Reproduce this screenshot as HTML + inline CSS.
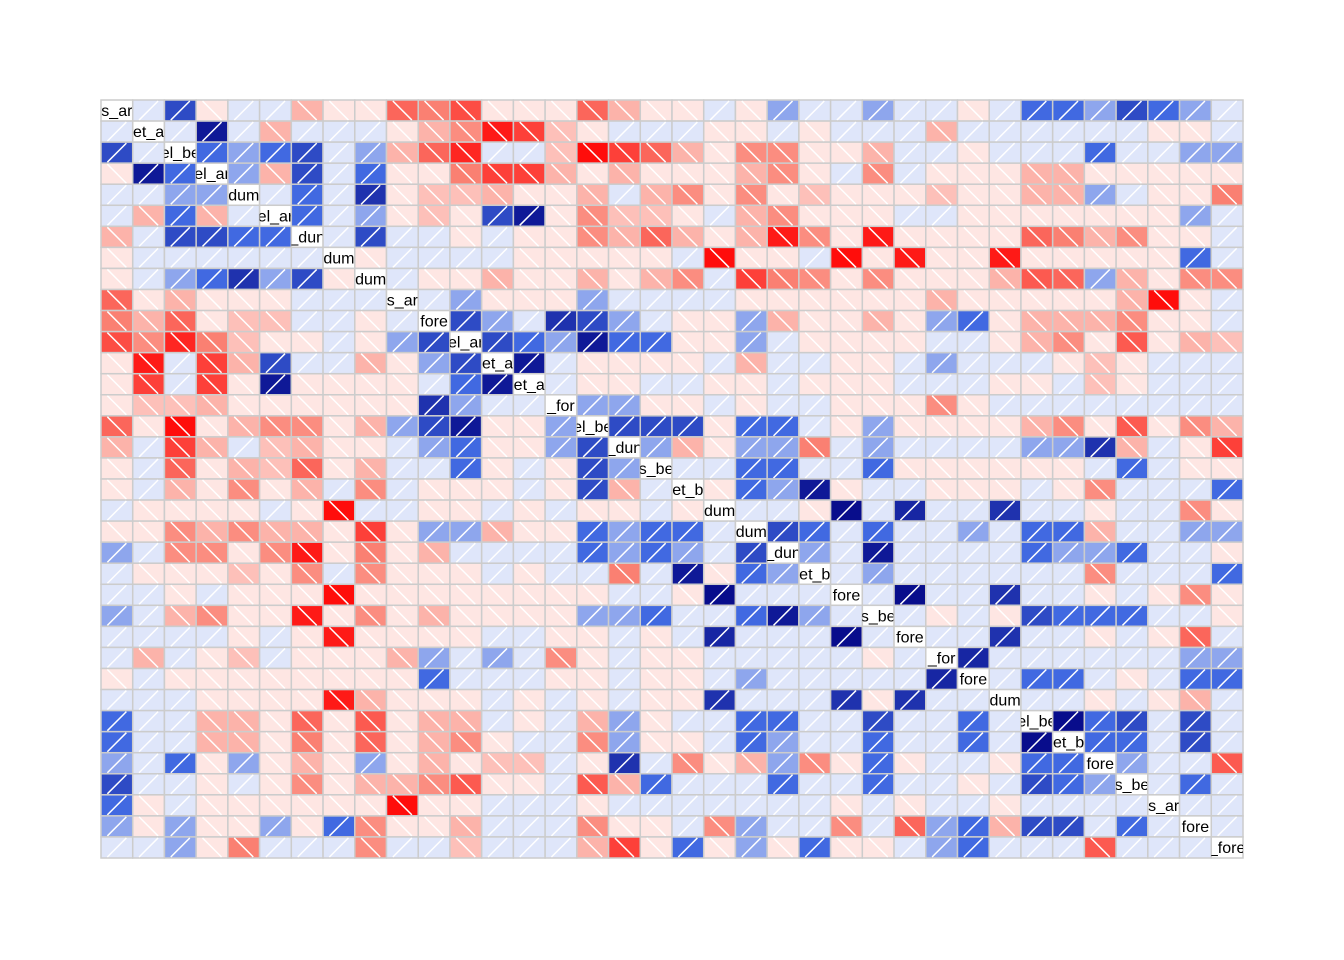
<!DOCTYPE html>
<html><head><meta charset="utf-8"><style>
html,body{margin:0;padding:0;background:#fff;}
svg{display:block;}
</style></head><body>
<svg id="chart" width="1344" height="960" xmlns="http://www.w3.org/2000/svg"></svg>
<script>
const labels=["s_ar","et_a","el_be","el_ar","dum","el_ar","_dun","dum","dum","s_ar","fore","el_ar","et_a","et_a","_for","el_be","_dun","s_be","et_b","dum","dum","_dun","et_b","fore","s_be","fore","_for","fore","dum","el_be","et_b","fore","s_be","s_ar","fore","_fore"];
const u0=[.1,.7,-.1,.1,.1,-.3,-.1,-.1,-.6,-.5,-.7,-.1,-.1,-.1,-.6,-.3,-.1,-.1,.1,-.1,.35,.1,.1,.35,.1,.1,-.1,.1,.55,.55,.35,.7,.55,.35,.1];
const u1=[.1,.9,.1,-.3,.1,.1,.1,-.1,-.3,-.45,-.9,-.75,-.25,-.1,.1,.1,.1,-.1,-.1,.1,-.1,.1,.1,.1,-.3,.1,.1,.1,.1,.1,.1,-.1,-.1,.1];
const u2=[.55,.35,.55,.7,.1,.35,-.3,-.6,-.85,.1,.1,-.25,-.95,-.75,-.6,-.3,-.1,-.45,-.45,-.1,-.1,-.3,.1,.1,-.1,.1,.1,.1,.55,.1,.1,.35,.35];
const u3=[.35,-.3,.7,.1,.55,-.1,-.1,-.5,-.75,-.75,-.3,-.1,-.3,-.1,-.1,-.1,-.3,-.45,-.1,.1,-.45,.1,-.1,-.1,-.1,-.3,-.3,-.1,-.1,-.1,-.1,-.1];
const u4=[.1,.55,.1,.8,-.1,-.25,-.25,-.3,-.1,-.1,-.3,.1,-.3,-.45,-.1,-.45,-.1,-.25,-.1,-.1,-.1,-.25,-.1,-.1,-.3,-.3,.35,.1,-.1,-.1,-.5];
const u5=[.55,.1,.35,-.1,-.25,-.1,.7,.9,-.1,-.45,-.25,-.25,-.1,.1,-.3,-.45,-.1,-.1,-.1,.1,.1,-.1,-.1,-.1,-.1,-.1,-.1,-.1,.35,.1];
const u6=[.1,.7,.1,.1,-.1,.1,-.1,-.1,-.45,-.3,-.6,-.3,-.1,-.3,-.9,-.45,-.1,-.9,-.1,-.1,-.1,-.1,-.6,-.5,-.3,-.45,-.1,-.1,.1];
const u7=[-.1,.1,.1,.1,.1,-.1,-.1,-.1,-.1,-.1,.1,-.95,-.1,-.1,.1,-.95,-.1,-.9,-.1,-.1,-.9,-.1,-.1,-.1,-.1,-.1,.55,.1];
const u8=[.1,-.1,-.1,-.3,-.1,-.1,-.3,-.1,-.3,-.45,.1,-.75,-.5,-.45,-.1,-.45,-.1,-.1,-.1,-.3,-.65,-.6,.35,-.3,-.1,-.45,-.45];
const u9=[.1,.35,-.1,-.1,-.1,.35,.1,.1,.1,.1,-.1,-.1,-.1,-.1,-.1,-.1,-.3,-.1,-.1,-.1,-.1,-.1,-.3,-.95,-.1,.1];
const u10=[.7,.35,.1,.8,.7,.35,.1,-.1,-.1,.35,-.3,-.1,-.1,-.3,-.1,.35,.5,-.1,-.3,-.3,-.3,-.45,-.1,-.1,.1];
const u11=[.7,.55,.35,.9,.55,.55,-.1,-.1,.35,.1,-.1,-.1,-.1,-.1,.1,.1,-.1,-.3,-.45,-.1,-.65,-.1,-.3,-.25];
const u12=[.9,.1,-.1,-.1,-.1,-.1,.1,-.3,.1,.1,-.1,-.1,.1,.35,.1,.1,.1,-.1,-.25,-.1,.1,.1,.1];
const u13=[.1,-.1,-.1,.1,.1,-.1,-.1,.1,-.1,-.1,-.1,.1,.1,.1,-.1,-.1,.1,-.25,-.1,.1,.1,.1];
const u14=[.35,.35,-.1,-.1,.1,-.1,.1,.1,-.1,-.1,-.1,-.45,-.1,.1,.1,.1,.1,.1,.1,.1,.1];
const u15=[.7,.7,.7,-.1,.55,.55,.1,-.1,.35,-.1,-.1,-.1,-.1,-.3,-.45,-.1,-.65,-.1,-.45,-.3];
const u16=[.35,-.3,-.1,.35,.35,-.5,.1,.35,.1,.1,.1,.1,.35,.35,.8,-.3,.1,-.1,-.75];
const u17=[.1,.1,.55,.55,.1,.1,.55,-.1,-.1,-.1,-.1,-.1,-.1,.1,.55,.1,-.1,-.1];
const u18=[-.1,.55,.35,.9,-.1,.1,.1,-.1,-.1,-.1,.1,-.1,-.45,.1,.1,.1,.55];
const u19=[.1,.1,-.1,.95,.1,.85,.1,.1,.8,.1,.1,-.1,.1,.1,-.45,-.1];
const u20=[.7,.55,.1,.55,.1,.1,.35,.1,.55,.55,-.3,.1,.1,.35,.35];
const u21=[.35,.1,.9,.1,.1,.1,.1,.55,.35,.35,.55,.1,.1,-.1];
const u22=[.1,.35,.1,.1,.1,.1,.1,.1,-.45,.1,.1,.1,.55];
const u23=[.1,.95,.1,.1,.8,.1,.1,-.1,.1,-.1,-.45,-.1];
const u24=[.1,-.1,.1,-.1,.7,.55,.55,.55,.1,.1,-.1];
const u25=[.1,.1,.8,.1,.1,-.1,.1,-.1,-.6,.1];
const u26=[.85,.1,.1,.1,.1,.1,.1,.35,.35];
const u27=[.1,.55,.55,.1,-.1,.1,.55,.55];
const u28=[.1,.1,-.1,.1,-.1,-.3,.1];
const u29=[.95,.55,.7,.1,.7,.1];
const u30=[.55,.55,.1,.7,.1];
const u31=[.35,.1,.1,-.65];
const u32=[.1,.55,.1];
const u33=[.1,.1];
const u34=[.1];
const upper=[u0,u1,u2,u3,u4,u5,u6,u7,u8,u9,u10,u11,u12,u13,u14,u15,u16,u17,u18,u19,u20,u21,u22,u23,u24,u25,u26,u27,u28,u29,u30,u31,u32,u33,u34];

const NS="http://www.w3.org/2000/svg";
const svg=document.getElementById('chart');
const n=labels.length, X0=101, X1=1243, Y0=100, Y1=858;
const cw=(X1-X0)/n, ch=(Y1-Y0)/n;
const xPos=c=>X0+c*cw, yPos=r=>Y0+r*ch;
function val(r,c){ if(r===c) return null; const a=Math.min(r,c), b=Math.max(r,c); return upper[a][b-a-1]; }
function mix(a,b,t){return a.map((v,i)=>Math.round(v+(b[i]-v)*t));}
function color(v){
  const W=[255,255,255], S=[250,128,114], R=[255,0,0], B=[65,105,225], N=[0,0,128];
  let t=Math.min(1,Math.abs(v));
  let c;
  if(v<0) c= t<0.5?mix(W,S,t/0.5):mix(S,R,(t-0.5)/0.5);
  else { t=t<0.5?t*0.85:t; c= t<0.5?mix(W,B,t/0.5):mix(B,N,Math.max(0,(t-0.58)/0.42)); }
  return `rgb(${c[0]},${c[1]},${c[2]})`;
}
const g=document.createElementNS(NS,'g');


svg.appendChild(g);
const defs=document.createElementNS(NS,'defs');svg.appendChild(defs);
for(let r=0;r<n;r++){
  for(let c=0;c<n;c++){
    const x=xPos(c), y=yPos(r), v=val(r,c);
    const rect=document.createElementNS(NS,'rect');
    rect.setAttribute('x',x);rect.setAttribute('y',y);rect.setAttribute('width',cw);rect.setAttribute('height',ch);
    rect.setAttribute('fill', v===null?'#ffffff':color(v));
    rect.setAttribute('stroke','#cccccc');rect.setAttribute('stroke-width','1.5');
    
    
    g.appendChild(rect);
    if(v===null){
      const cp=document.createElementNS(NS,'clipPath');cp.setAttribute('id','cp'+r);
      const cr=document.createElementNS(NS,'rect');cr.setAttribute('x',x);cr.setAttribute('y',y);cr.setAttribute('width',cw);cr.setAttribute('height',ch);
      cp.appendChild(cr);defs.appendChild(cp);
      const t=document.createElementNS(NS,'text');
      t.setAttribute('x',x+cw/2);t.setAttribute('y',y+ch/2+5.5);
      t.setAttribute('text-anchor','middle');t.setAttribute('font-size','16');
      t.setAttribute('font-family','Liberation Sans, Arial, sans-serif');
      t.setAttribute('clip-path','url(#cp'+r+')');
      
      
      t.textContent=labels[r];
      g.appendChild(t);
    } else {
      const l=document.createElementNS(NS,'line');
      if(v>0){l.setAttribute('x1',x+cw*0.2);l.setAttribute('y1',y+ch-1);l.setAttribute('x2',x+cw*0.8);l.setAttribute('y2',y+1);}
      else{l.setAttribute('x1',x+cw*0.2);l.setAttribute('y1',y+1);l.setAttribute('x2',x+cw*0.8);l.setAttribute('y2',y+ch-1);}
      l.setAttribute('stroke','#ffffff');l.setAttribute('stroke-width','1.5');
      
      
      g.appendChild(l);
    }
  }
}
</script>
</body></html>
